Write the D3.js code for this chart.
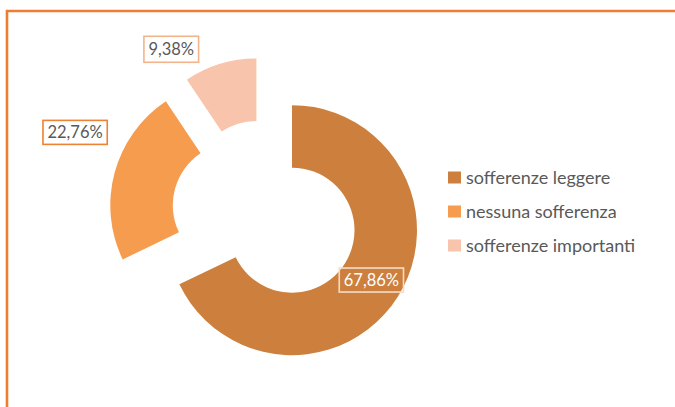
<!DOCTYPE html>
<html>
<head>
<meta charset="utf-8">
<script src="https://cdn.jsdelivr.net/npm/d3@7/dist/d3.min.js"></script>
<style>
  html, body { margin: 0; padding: 0; background: #fff; }
  svg { display: block; }
</style>
</head>
<body>
<svg id="chart" width="675" height="407"></svg>
<script>
// Distribution of answers (percent)
const categories = ["sofferenze leggere", "nessuna sofferenza", "sofferenze importanti"];
const values = [67.86, 22.76, 9.38];
const valueLabels = ["67,86%", "22,76%", "9,38%"];
const colors = ["#CD803D", "#F69C4E", "#F8C4AC"];
const labelBorders = ["#F6DCC6", "#EE8234", "#F3B48C"];

const svg = d3.select("#chart");
const W = 675, H = 407;
const font = "Lato, 'Open Sans', sans-serif";

// chart area frame (runs off the right and bottom edges)
svg.append("path")
  .attr("d", `M7,${H + 10} L7,11 L${W + 10},11`)
  .attr("fill", "none")
  .attr("stroke", "#ED7D31")
  .attr("stroke-width", 2.6);

// donut geometry
const cx = 265.5, cy = 213.5;
const outerR = 125, innerR = 62.5, explode = 31.3;

const pie = d3.pie().sort(null).value(d => d)(values);
const arc = d3.arc().innerRadius(innerR).outerRadius(outerR);

const g = svg.append("g").attr("transform", `translate(${cx},${cy})`);

function sliceOffset(d) {
  const a = (d.startAngle + d.endAngle) / 2;
  return [explode * Math.sin(a), -explode * Math.cos(a)];
}

const slices = g.selectAll("g.slice")
  .data(pie)
  .join("g")
  .attr("class", "slice")
  .attr("transform", d => { const o = sliceOffset(d); return `translate(${o[0]},${o[1]})`; });

slices.append("path")
  .attr("d", arc)
  .attr("fill", (d, i) => colors[i]);

// data labels: the big slice carries its label inside the ring,
// the small ones sit outside, shifted off the slice
const outside = [null, { r: 176, shift: 9.2 }, { r: 159, shift: -15.5 }];

slices.each(function (d, i) {
  const s = d3.select(this);
  let x, y;
  if (!outside[i]) {
    [x, y] = arc.centroid(d);
  } else {
    const a = (d.startAngle + d.endAngle) / 2 + outside[i].shift * Math.PI / 180;
    x = outside[i].r * Math.sin(a);
    y = -outside[i].r * Math.cos(a);
  }
  const lg = s.append("g").attr("transform", `translate(${x},${y})`);
  const rect = lg.append("rect");
  const t = lg.append("text")
    .attr("text-anchor", "middle")
    .attr("dominant-baseline", "central")
    .attr("font-family", font)
    .attr("font-size", 16.5)
    .attr("fill", i === 0 ? "#ffffff" : "#595959")
    .text(valueLabels[i]);
  const w = t.node().getComputedTextLength();
  const padX = 4.5, h = i === 2 ? 26 : 24;
  rect.attr("x", -w / 2 - padX).attr("y", -h / 2)
    .attr("width", w + 2 * padX).attr("height", h)
    .attr("fill", i === 0 ? "none" : "#ffffff")
    .attr("stroke", labelBorders[i])
    .attr("stroke-width", 1.6);
});

// legend
const legend = svg.append("g").attr("transform", "translate(448,177)");
const items = legend.selectAll("g")
  .data(categories)
  .join("g")
  .attr("transform", (d, i) => `translate(0,${i * 34})`);
items.append("rect")
  .attr("x", 0).attr("y", -5.5)
  .attr("width", 13).attr("height", 12)
  .attr("fill", (d, i) => colors[i]);
items.append("text")
  .attr("x", 18).attr("y", 0)
  .attr("dominant-baseline", "central")
  .attr("font-family", font)
  .attr("font-size", 18)
  .attr("fill", "#595959")
  .text(d => d);
</script>
</body>
</html>
